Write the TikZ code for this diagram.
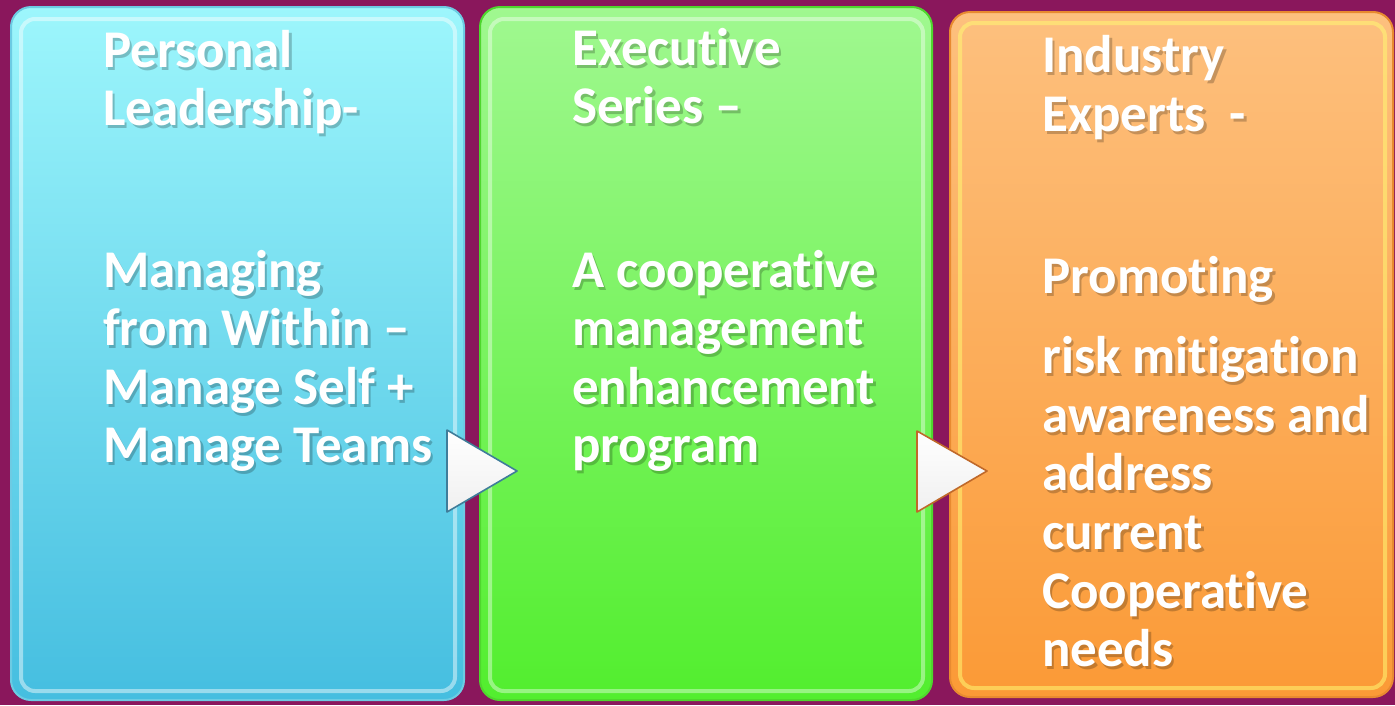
\documentclass[tikz,border=0pt]{standalone}
\usepackage{fontspec}
\setmainfont{Carlito}[RawFeature={-liga}]
\definecolor{bgpurple}{HTML}{8A175C}
\definecolor{bluetop}{HTML}{9DF6FC}
\definecolor{bluebot}{HTML}{45BEE0}
\definecolor{bluerim}{HTML}{6CCBE3}
\definecolor{greentop}{HTML}{A0F890}
\definecolor{greenbot}{HTML}{52EE2E}
\definecolor{greenrim}{HTML}{4FD62E}
\definecolor{orangetop}{HTML}{FDC07E}
\definecolor{orangebot}{HTML}{FB9A36}
\definecolor{orangerim}{HTML}{E88A30}
\definecolor{arrowblue}{HTML}{3F7D9A}
\definecolor{arrowbrown}{HTML}{C0692A}
\tikzset{
  x=1pt, y=-1pt,
  txt/.style={anchor=base west, inner sep=0pt, text=white,
    font=\fontsize{53}{58}\selectfont\bfseries},
  shd/.style={anchor=base west, inner sep=0pt, text=black, opacity=0.22,
    font=\fontsize{53}{58}\selectfont\bfseries},
  rimline/.style={line width=4pt, rounded corners=14pt},
  tri/.style={line width=1.6pt, line join=round, top color=white, bottom color=white!88!gray},
}
\newcommand{\tline}[4]{%
  \node[shd] at (#2+2.5,#3+3) {#4};
  \node[txt] (#1) at (#2,#3) {#4};}
\begin{document}
\begin{tikzpicture}
\useasboundingbox (0,0) rectangle (1395,705);
\fill[bgpurple] (0,0) rectangle (1395,705);
% boxes
\shade[top color=bluetop, bottom color=bluebot, draw=bluerim, line width=2pt, rounded corners=20pt]
  (11,7) rectangle (464,700);
\draw[rimline, white, opacity=0.45] (21,19) rectangle (455,691);
\shade[top color=greentop, bottom color=greenbot, draw=greenrim, line width=2pt, rounded corners=20pt]
  (480,7) rectangle (932,700);
\draw[rimline, white, opacity=0.4] (490,19) rectangle (923,691);
\shade[top color=orangetop, bottom color=orangebot, draw=orangerim, line width=2pt, rounded corners=20pt]
  (950,12) rectangle (1393,697);
\draw[rimline, yellow!55!white, opacity=0.55] (960,23) rectangle (1385,688);
% box 1 text
\tline{a1}{103}{67}{Personal}
\tline{a2}{103}{125}{Leadership-}
\tline{a3}{103}{287}{Managing}
\tline{a4}{103}{345}{from Within –}
\tline{a5}{103}{404}{Manage Self +}
\tline{a6}{103}{462}{Manage Teams}
% box 2 text
\tline{b1}{572}{65}{Executive}
\tline{b2}{572}{123}{Series –}
\tline{b3}{572}{287}{A cooperative}
\tline{b4}{572}{345}{management}
\tline{b5}{572}{404}{enhancement}
\tline{b6}{572}{462}{program}
% box 3 text
\tline{c1}{1042}{72}{Industry}
\tline{c2}{1042}{131}{Experts\ \ -}
\tline{c3}{1042}{293}{Promoting}
\tline{c4}{1042}{373}{risk mitigation}
\tline{c5}{1042}{432}{awareness and}
\tline{c6}{1042}{490}{address}
\tline{c7}{1042}{549}{current}
\tline{c8}{1042}{608}{Cooperative}
\tline{c9}{1042}{666}{needs}
% arrows
\coordinate (p1a) at (447,430);
\coordinate (p1b) at (517,471);
\coordinate (p1c) at (447,512);
\draw[tri, draw=arrowblue] (p1a) -- (p1b) -- (p1c) -- cycle;
\coordinate (p2a) at (917,431);
\coordinate (p2b) at (987,471);
\coordinate (p2c) at (917,512);
\draw[tri, draw=arrowbrown] (p2a) -- (p2b) -- (p2c) -- cycle;
\end{tikzpicture}
\end{document}
